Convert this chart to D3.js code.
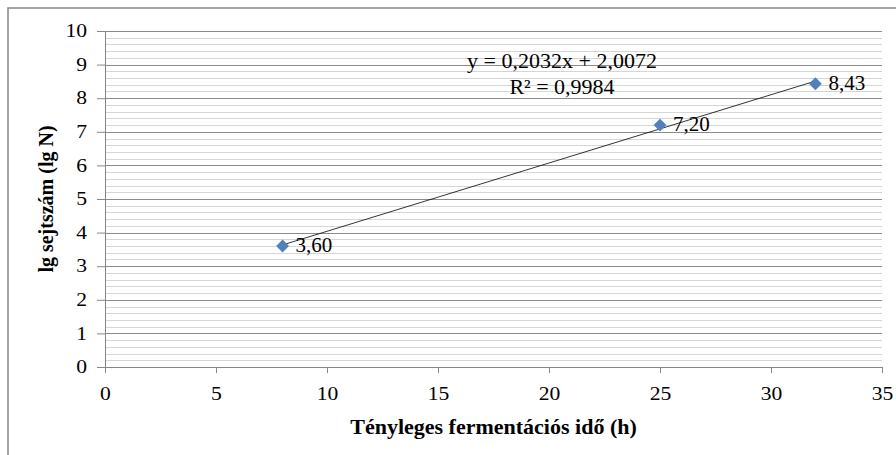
<!DOCTYPE html>
<html>
<head>
<meta charset="utf-8">
<script src="https://cdn.jsdelivr.net/npm/d3@7"></script>
<style>
  body { margin: 0; background: #fff; }
  svg { display: block; }
  text { font-family: "Liberation Serif", "Times New Roman", serif; }
</style>
</head>
<body>
<div id="chart"></div>
<script>
var xValues = [8, 25, 32];
var yValues = [3.60, 7.20, 8.43];
var pointLabels = ["3,60", "7,20", "8,43"];
var xTicks = [0, 5, 10, 15, 20, 25, 30, 35];
var yTicks = [0, 1, 2, 3, 4, 5, 6, 7, 8, 9, 10];
var trendSlope = 0.2032;
var trendIntercept = 2.0072;
var equationText = "y = 0,2032x + 2,0072";
var r2Text = "R² = 0,9984";
var xTitle = "Tényleges fermentációs idő (h)";
var yTitle = "lg sejtszám (lg N)";

var width = 896, height = 455;
var margin = {top: 31, bottom: 88, left: 105, right: 14};
var serif = "'Liberation Serif', 'Times New Roman', serif";

var svg = d3.select("#chart")
    .append("svg")
    .attr("width", width)
    .attr("height", height);

// outer chart frame (only left and top edges are visible)
svg.append("rect")
    .attr("x", 8).attr("y", 8)
    .attr("width", width + 20).attr("height", height + 20)
    .attr("fill", "none")
    .attr("stroke", "#868686")
    .attr("stroke-width", 1.5);

var xScale = d3.scaleLinear()
    .domain([0, 35])
    .range([margin.left, width - margin.right]);

var yScale = d3.scaleLinear()
    .domain([0, 10])
    .range([height - margin.bottom, margin.top]);

// minor gridlines every 0.2
var minor = d3.range(0, 10.001, 0.2).filter(function (d) {
    return Math.abs(d - Math.round(d)) > 0.01;
});
svg.append("g")
    .selectAll("line")
    .data(minor)
    .enter()
    .append("line")
    .attr("x1", xScale(0)).attr("x2", xScale(35))
    .attr("y1", function (d) { return Math.round(yScale(d)) + 0.5; })
    .attr("y2", function (d) { return Math.round(yScale(d)) + 0.5; })
    .attr("stroke", "#d6d6d6");

// major gridlines
svg.append("g")
    .selectAll("line")
    .data(yTicks.filter(function (d) { return d > 0; }))
    .enter()
    .append("line")
    .attr("x1", xScale(0)).attr("x2", xScale(35))
    .attr("y1", function (d) { return Math.round(yScale(d)) + 0.5; })
    .attr("y2", function (d) { return Math.round(yScale(d)) + 0.5; })
    .attr("stroke", "#8c8c8c");

// y axis
var yAxis = svg.append("g")
    .attr("transform", `translate(${xScale(0)},0)`)
    .call(d3.axisLeft(yScale).tickValues(yTicks).tickSize(8).tickPadding(7).tickFormat(d3.format("d")));
yAxis.attr("font-family", serif).attr("font-size", 18);
yAxis.selectAll("line, path").attr("stroke", "#868686");
yAxis.selectAll("text")
    .attr("fill", "#000")
    .attr("transform", "scale(1.2,1)");

// x axis
var xAxis = svg.append("g")
    .attr("transform", `translate(0,${yScale(0)})`)
    .call(d3.axisBottom(xScale).tickValues(xTicks).tickSize(6).tickPadding(14).tickFormat(d3.format("d")));
xAxis.attr("font-family", serif).attr("font-size", 18);
xAxis.selectAll("line, path").attr("stroke", "#868686");
xAxis.selectAll("text")
    .attr("fill", "#000")
    .attr("transform", "scale(1.2,1)");

// trendline over the data range
var x0 = d3.min(xValues), x1 = d3.max(xValues);
svg.append("line")
    .attr("x1", xScale(x0))
    .attr("y1", yScale(trendSlope * x0 + trendIntercept))
    .attr("x2", xScale(x1))
    .attr("y2", yScale(trendSlope * x1 + trendIntercept))
    .attr("stroke", "#000")
    .attr("stroke-width", 0.8);

// markers
var points = xValues.map(function (x, i) {
    return {x: x, y: yValues[i], label: pointLabels[i]};
});
svg.selectAll(".pt")
    .data(points)
    .enter()
    .append("path")
    .attr("class", "pt")
    .attr("d", d3.symbol().type(d3.symbolDiamond2).size(105))
    .attr("transform", function (d) {
        return `translate(${xScale(d.x)},${yScale(d.y)})`;
    })
    .attr("fill", "#4f81bd");

svg.selectAll(".lbl")
    .data(points)
    .enter()
    .append("text")
    .attr("class", "lbl")
    .attr("x", function (d) { return xScale(d.x) + 13; })
    .attr("y", function (d) { return yScale(d.y) + 6; })
    .style("font-size", "21px")
    .text(function (d) { return d.label; });

// equation
svg.append("text")
    .attr("x", 562).attr("y", 68)
    .attr("text-anchor", "middle")
    .style("font-size", "22px")
    .text(equationText);
svg.append("text")
    .attr("x", 562).attr("y", 94)
    .attr("text-anchor", "middle")
    .style("font-size", "22px")
    .text(r2Text);

// axis titles
svg.append("text")
    .attr("x", (xScale(0) + xScale(35)) / 2)
    .attr("y", 434)
    .attr("text-anchor", "middle")
    .style("font-size", "22px")
    .style("font-weight", "bold")
    .text(xTitle);

svg.append("text")
    .attr("transform", `translate(53,${(yScale(0) + yScale(10)) / 2}) rotate(-90)`)
    .attr("text-anchor", "middle")
    .style("font-size", "20px")
    .style("font-weight", "bold")
    .text(yTitle);
</script>
</body>
</html>
